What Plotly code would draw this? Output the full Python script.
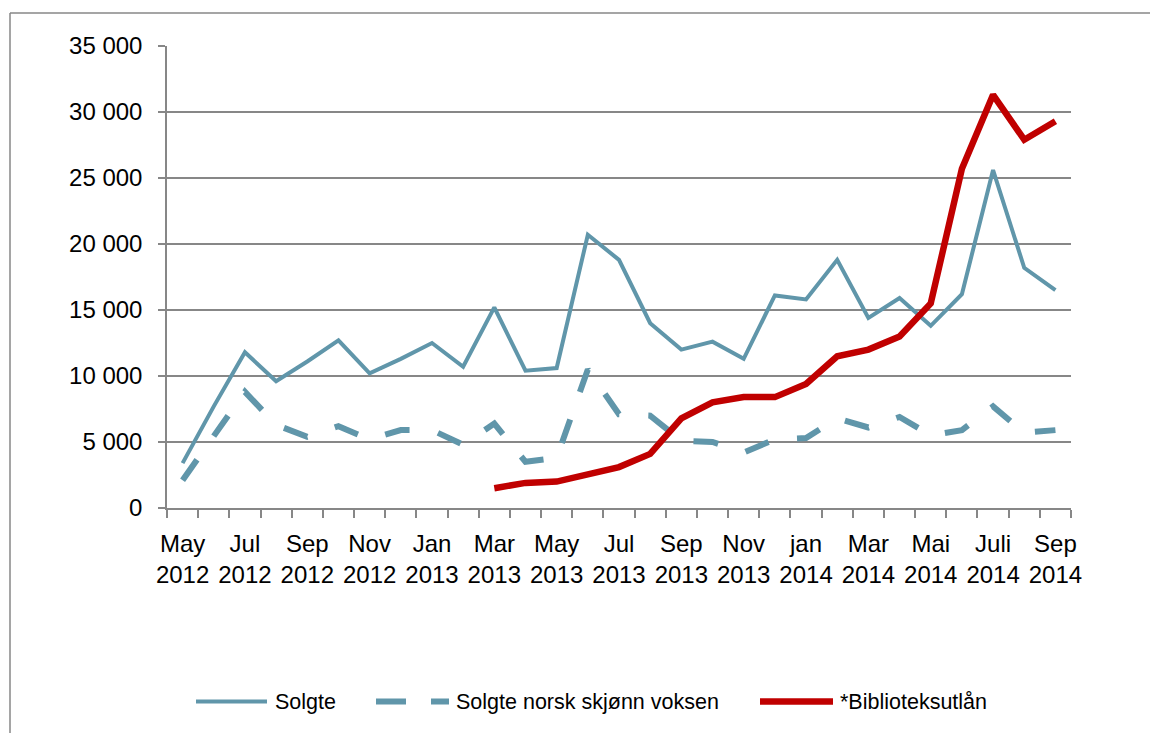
import plotly.graph_objects as go

months = ["May 2012", "Jun 2012", "Jul 2012", "Aug 2012", "Sep 2012", "Oct 2012", "Nov 2012", "Dec 2012",
          "Jan 2013", "Feb 2013", "Mar 2013", "Apr 2013", "May 2013", "Jun 2013", "Jul 2013", "Aug 2013",
          "Sep 2013", "Oct 2013", "Nov 2013", "Dec 2013", "Jan 2014", "Feb 2014", "Mar 2014", "Apr 2014",
          "May 2014", "Jun 2014", "Jul 2014", "Aug 2014", "Sep 2014"]

tick_labels = ["May<br>2012", "Jul<br>2012", "Sep<br>2012", "Nov<br>2012", "Jan<br>2013", "Mar<br>2013",
               "May<br>2013", "Jul<br>2013", "Sep<br>2013", "Nov<br>2013", "jan<br>2014", "Mar<br>2014",
               "Mai<br>2014", "Juli<br>2014", "Sep<br>2014"]

solgte = [3400, 7700, 11800, 9600, 11100, 12700, 10200, 11300, 12500, 10700,
          15200, 10400, 10600, 20700, 18800, 14000, 12000, 12600, 11300, 16100,
          15800, 18800, 14400, 15900, 13800, 16200, 25600, 18200, 16500]

solgte_norsk = [2100, 5400, 8800, 6300, 5400, 6200, 5200, 5900, 5900, 4800,
                6400, 3500, 3800, 10500, 7100, 7000, 5100, 5000, 4200, 5200,
                5300, 6800, 6100, 6900, 5500, 5900, 7700, 5700, 5900]

bibliotek = [None] * 10 + [1500, 1900, 2000, 2600, 3100, 4100, 6800, 8000, 8400, 8400,
                           9400, 11500, 12000, 13000, 15500, 25700, 31300, 27900, 29300]

series_names = ["Solgte", "Solgte norsk skjønn voksen", "*Biblioteksutlån"]

x = list(range(len(months)))
tickvals = x[::2]
blue = "#6096AA"
red = "#C00000"
grey = "#878787"
font = "Liberation Sans, Arial, sans-serif"

# plot area in page pixels (page body has an 8px margin)
PL, PR, PT, PB = 167, 1071, 46, 508
OFF = 8
W, H = 1158 - OFF, 733 - OFF


def px_x(p):
    return (p - PL) / (PR - PL)


def px_y(p):
    return (PB - p) / (PB - PT)


styles = [dict(color=blue, width=4),
          dict(color=blue, width=6, dash="25px,29px"),
          dict(color=red, width=6.5)]

fig = go.Figure()
for name, ys, st in zip(series_names, [solgte, solgte_norsk, bibliotek], styles):
    fig.add_trace(go.Scatter(x=x, y=ys, name=name, mode="lines", line=st,
                             customdata=months, showlegend=False))

# legend drawn as shapes + text (sample lines are long, as in the reference)
legend_y = px_y(701.5)
legend_items = [(196, 267, 273, dict(color=blue, width=4)),
                (376, 449, 454, dict(color=blue, width=6, dash="30px,25px")),
                (760, 833, 838, dict(color=red, width=6.5))]
shapes = [
    dict(type="line", xref="paper", yref="paper", x0=px_x(10), x1=px_x(10), y0=px_y(13), y1=px_y(760),
         line=dict(color=grey, width=1.5), layer="below"),
    dict(type="line", xref="paper", yref="paper", x0=px_x(10), x1=px_x(1170), y0=px_y(13), y1=px_y(13),
         line=dict(color=grey, width=1.5), layer="below"),
]
annotations = []
for name, (a, b, t, st) in zip(series_names, legend_items):
    shapes.append(dict(type="line", xref="paper", yref="paper", x0=px_x(a), x1=px_x(b),
                       y0=legend_y, y1=legend_y, line=st))
    annotations.append(dict(text=name, xref="paper", yref="paper", x=px_x(t), y=legend_y,
                            xanchor="left", yanchor="middle", showarrow=False,
                            font=dict(size=21.5, family=font, color="#000000")))

fig.update_layout(
    width=W, height=H,
    margin=dict(l=PL - OFF, r=W + OFF - PR, t=PT - OFF, b=H + OFF - PB),
    paper_bgcolor="white", plot_bgcolor="white",
    separators=", ",
    font=dict(family=font, size=24, color="#000000"),
    showlegend=False,
    shapes=shapes,
    annotations=annotations,
)

fig.update_xaxes(range=[-0.5, len(months) - 0.5], tickmode="array", tickvals=tickvals, ticktext=tick_labels,
                 ticks="", showgrid=False, zeroline=False, showline=True, linecolor=grey, linewidth=1.5,
                 ticklabelstandoff=13,
                 minor=dict(tickmode="array", tickvals=[i - 0.5 for i in range(len(months) + 1)],
                            ticks="outside", ticklen=8, tickcolor=grey, tickwidth=1.5, showgrid=False))
fig.update_yaxes(range=[0, 35000], dtick=5000, tick0=0, tickformat=",d", showgrid=True, gridcolor=grey,
                 gridwidth=1.5, zeroline=False, showline=True, linecolor=grey, linewidth=1.5,
                 ticks="outside", ticklen=7, tickcolor=grey, tickwidth=1.5, ticklabelstandoff=11)

fig.write_html("out.html", config={"displayModeBar": False})
